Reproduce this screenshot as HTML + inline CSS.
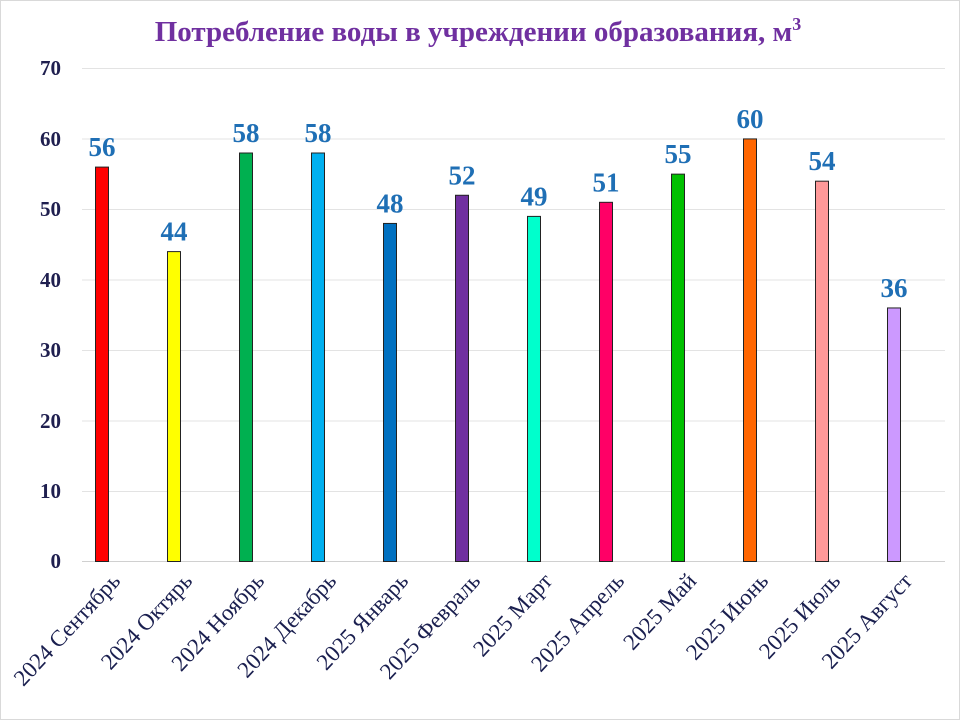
<!DOCTYPE html><html><head><meta charset="utf-8"><style>body{margin:0;background:#fff}svg{display:block}</style></head><body>
<svg width="960" height="720" xmlns="http://www.w3.org/2000/svg" font-family="Liberation Serif, serif">
<rect x="0.5" y="0.5" width="959" height="719" fill="#fff" stroke="#d9d9d9"/>
<text x="478" y="41" text-anchor="middle" font-size="29" font-weight="bold" fill="#7030a0">Потребление воды в учреждении образования, м<tspan font-size="18" dy="-11">3</tspan></text>
<g stroke="#e3e3e3" stroke-width="1">
<line x1="82" x2="945" y1="68.5" y2="68.5"/><line x1="82" x2="945" y1="139" y2="139"/><line x1="82" x2="945" y1="209.5" y2="209.5"/><line x1="82" x2="945" y1="280" y2="280"/><line x1="82" x2="945" y1="350.5" y2="350.5"/><line x1="82" x2="945" y1="421" y2="421"/><line x1="82" x2="945" y1="491.5" y2="491.5"/><line x1="82" x2="945" y1="561.5" y2="561.5" stroke="#d0d0d0"/>
</g>
<g font-size="21" font-weight="bold" fill="#1f1f4f" text-anchor="end">
<text x="61" y="75">70</text><text x="61" y="146">60</text><text x="61" y="216">50</text><text x="61" y="287">40</text><text x="61" y="357">30</text><text x="61" y="428">20</text><text x="61" y="498">10</text><text x="61" y="568">0</text>
</g>
<g id="bars" stroke="#222" stroke-width="1"></g>
<g id="vals" font-size="27" font-weight="bold" fill="#1f6fb5" text-anchor="middle"></g>
<g id="labs" font-size="23" fill="#1a1f4f" text-anchor="end"></g>
<script>
var v=[56,44,58,58,48,52,49,51,55,60,54,36];
var c=["#ff0000","#ffff00","#00b050","#00b0f0","#0070c0","#7030a0","#00ffcc","#ff0066","#00c000","#ff6600","#ff9999","#cc99ff"];
var n=["2024 Сентябрь","2024 Октярь","2024 Ноябрь","2024 Декабрь","2025 Январь","2025 Февраль","2025 Март","2025 Апрель","2025 Май","2025 Июнь","2025 Июль","2025 Август"];
var ns="http://www.w3.org/2000/svg",B=document.getElementById("bars"),V=document.getElementById("vals"),L=document.getElementById("labs");
for(var i=0;i<12;i++){var x=95.5+72*i,h=v[i]*7.043,y=561.5-h;
var r=document.createElementNS(ns,"rect");r.setAttribute("x",x);r.setAttribute("y",y);r.setAttribute("width",13);r.setAttribute("height",h);r.setAttribute("fill",c[i]);B.appendChild(r);
var t=document.createElementNS(ns,"text");t.setAttribute("x",x+6.5);t.setAttribute("y",y-11);t.textContent=v[i];V.appendChild(t);
var l=document.createElementNS(ns,"text");var lx=x+26,ly=582;l.setAttribute("x",lx);l.setAttribute("y",ly);l.setAttribute("transform","rotate(-47 "+lx+" "+ly+")");l.textContent=n[i];L.appendChild(l);}
</script>
</svg></body></html>
